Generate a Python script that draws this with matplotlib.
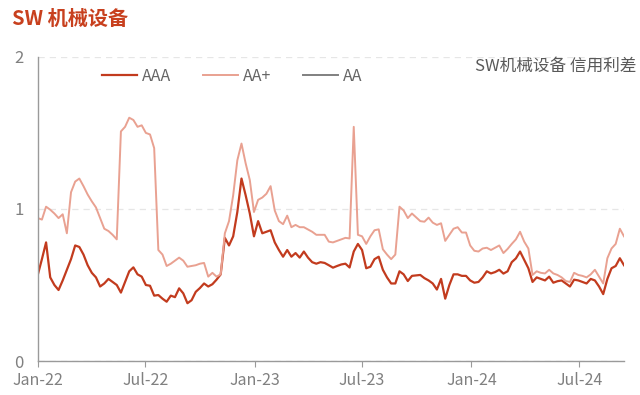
import matplotlib
matplotlib.use("Agg")
import matplotlib.pyplot as plt
import matplotlib.dates as mdates
import pandas as pd

plt.rcParams['font.family'] = ['Noto Sans CJK SC', 'DejaVu Sans']

# weekly observations, Jan-2022 .. Sep-2024
dates = pd.date_range("2022-01-01", periods=142, freq="7D")

aaa = [0.566, 0.67, 0.78, 0.55, 0.50, 0.467, 0.53, 0.60, 0.67, 0.76,
       0.75, 0.70, 0.63, 0.58, 0.55, 0.49, 0.51, 0.54, 0.52, 0.50,
       0.45, 0.52, 0.59, 0.616, 0.57, 0.555, 0.50, 0.495, 0.43, 0.434,
       0.41, 0.39, 0.43, 0.42, 0.478, 0.445, 0.38, 0.40, 0.455, 0.48,
       0.51, 0.49, 0.505, 0.535, 0.57, 0.81, 0.76, 0.82, 0.98, 1.20,
       1.09, 0.97, 0.82, 0.92, 0.84, 0.85, 0.86, 0.78, 0.73, 0.686,
       0.73, 0.686, 0.71, 0.68, 0.72, 0.68, 0.65, 0.64, 0.65, 0.645,
       0.63, 0.614, 0.625, 0.635, 0.64, 0.615, 0.72, 0.77, 0.73, 0.61,
       0.62, 0.67, 0.686, 0.60, 0.55, 0.51, 0.51, 0.59, 0.57, 0.526,
       0.56, 0.563, 0.566, 0.545, 0.53, 0.51, 0.47, 0.54, 0.41, 0.50,
       0.57, 0.57, 0.56, 0.56, 0.53, 0.515, 0.52, 0.55, 0.59, 0.576,
       0.585, 0.60, 0.575, 0.59, 0.65, 0.675, 0.72, 0.665, 0.61, 0.52,
       0.55, 0.54, 0.53, 0.555, 0.515, 0.525, 0.53, 0.51, 0.49, 0.535,
       0.53, 0.52, 0.51, 0.54, 0.53, 0.49, 0.44, 0.54, 0.61, 0.625,
       0.676, 0.63]

aa_plus = [0.94, 0.93, 1.015, 0.995, 0.97, 0.94, 0.965, 0.84, 1.11, 1.18,
           1.20, 1.15, 1.095, 1.05, 1.01, 0.94, 0.87, 0.855, 0.83, 0.80,
           1.51, 1.54, 1.60, 1.585, 1.54, 1.55, 1.50, 1.49, 1.40, 0.73,
           0.70, 0.625, 0.64, 0.66, 0.68, 0.66, 0.62, 0.625, 0.63, 0.64,
           0.645, 0.555, 0.58, 0.555, 0.57, 0.84, 0.92, 1.09, 1.32, 1.43,
           1.30, 1.19, 0.98, 1.06, 1.075, 1.10, 1.15, 0.99, 0.92, 0.90,
           0.956, 0.88, 0.895, 0.88, 0.88, 0.865, 0.85, 0.83, 0.83, 0.83,
           0.785, 0.78, 0.79, 0.80, 0.81, 0.806, 1.54, 0.83, 0.82, 0.77,
           0.82, 0.86, 0.866, 0.735, 0.70, 0.67, 0.70, 1.015, 0.99, 0.94,
           0.97, 0.945, 0.92, 0.916, 0.943, 0.91, 0.895, 0.906, 0.79, 0.83,
           0.87, 0.88, 0.845, 0.845, 0.76, 0.725, 0.72, 0.74, 0.745, 0.73,
           0.745, 0.76, 0.71, 0.737, 0.77, 0.80, 0.85, 0.785, 0.74, 0.566,
           0.59, 0.58, 0.576, 0.60, 0.576, 0.566, 0.55, 0.526, 0.52, 0.58,
           0.566, 0.56, 0.55, 0.57, 0.60, 0.555, 0.51, 0.676, 0.74, 0.77,
           0.87, 0.82]

aa = []  # no AA observations shown

fig = plt.figure(figsize=(6.4, 3.95), dpi=100)
ax = fig.add_axes([0.059, 0.086, 0.916, 0.770])

ax.plot(dates, aaa, color="#C23B1E", linewidth=1.6, label="AAA")
ax.plot(dates, aa_plus, color="#E9A191", linewidth=1.4, label="AA+")
ax.plot(dates[:len(aa)], aa, color="#808080", linewidth=1.4, label="AA")

ax.set_xlim(dates[0], dates[-1])
ax.set_ylim(0, 2)
ax.set_yticks([0, 1, 2])
ax.grid(axis="y", color="#E6E6E6", linestyle=(0, (5, 4)), linewidth=0.9)

ax.xaxis.set_major_locator(mdates.MonthLocator(bymonth=[1, 7]))
ax.xaxis.set_major_formatter(mdates.DateFormatter("%b-%y"))

for side in ["top", "right"]:
    ax.spines[side].set_visible(False)
for side in ["left", "bottom"]:
    ax.spines[side].set_color("#9A9A9A")
    ax.spines[side].set_linewidth(1.0)
ax.tick_params(axis="y", length=0, labelsize=12, labelcolor="#808080", pad=10)
ax.tick_params(axis="x", length=4, color="#9A9A9A", labelsize=11.5,
               labelcolor="#808080", pad=4)

leg = ax.legend(loc="upper left", bbox_to_anchor=(0.085, 1.012), ncol=3,
                frameon=False, fontsize=11.5, handlelength=2.2,
                columnspacing=2.0, handletextpad=0.3)
for t in leg.get_texts():
    t.set_color("#666666")

fig.text(0.995, 0.832, "SW机械设备 信用利差", ha="right", va="center",
         fontsize=12, color="#595959")
fig.text(0.018, 0.952, "SW 机械设备", ha="left", va="center",
         fontsize=14.5, color="#C8401E", fontweight="bold")

fig.savefig("out.png", dpi=100)
